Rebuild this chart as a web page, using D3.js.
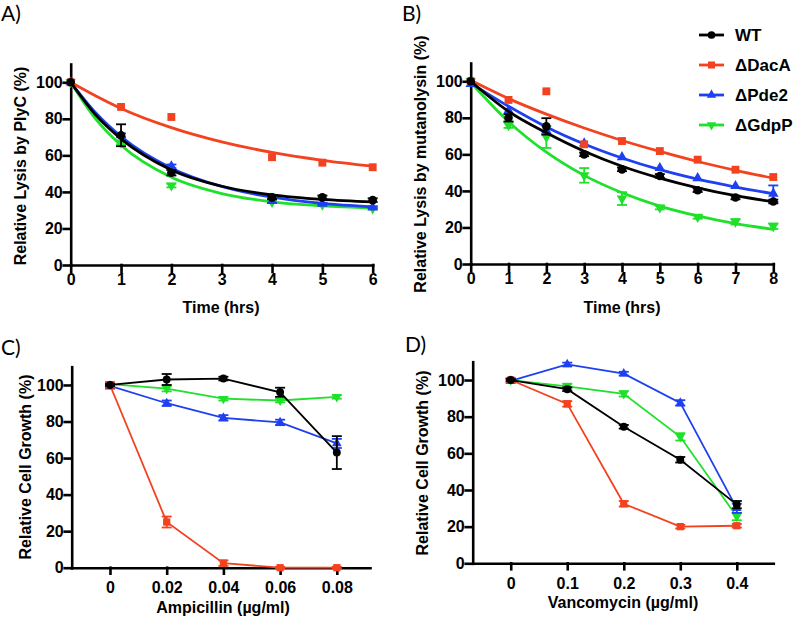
<!DOCTYPE html>
<html>
<head>
<meta charset="utf-8">
<script src="https://cdn.jsdelivr.net/npm/d3@7"></script>
<style>
  body { margin: 0; background: #fff; }
  svg { display: block; font-family: "Liberation Sans", Arial, sans-serif; }
  .tick text { font-weight: bold; font-size: 16px; fill: #000; }
  .title { font-weight: bold; font-size: 16px; }
  .panel { font-family: Lato, "Open Sans", sans-serif; font-size: 21px; }
</style>
</head>
<body>
<svg id="chart" width="800" height="620"></svg>
<script>
// ---- data ----
var seriesNames = ["WT", "\u0394DacA", "\u0394Pde2", "\u0394GdpP"];
var seriesColors = ["#000000", "#f3421f", "#1e40f0", "#1fe02a"];

// A) lysis by PlyC
var timeA = [0, 1, 2, 4, 5, 6];
var lysisA_WT   = [100, 71, 50.5, 37, 37, 35.5];
var lysisA_DacA = [100, 86.5, 81, 59, 56, 53.5];
var lysisA_Pde2 = [100, 71, 54, 35, 33.5, 31.5];
var lysisA_GdpP = [100, 67, 43.5, 34.5, 33, 31];
var errA_WT   = [0, 6, 1.5, 1, 1, 1];
var errA_DacA = [0, 0, 0, 0, 0, 0];
var errA_Pde2 = [0, 1, 1, 1, 0.5, 0.5];
var errA_GdpP = [0, 1, 1, 0.5, 0.5, 0.5];
// fitted decay curves
var fitTimeA = [0, 0.5, 1, 2, 3, 4, 5, 6];
var fitA_WT   = [100, 82, 69, 52, 43.1, 38.4, 35.9, 34.5];
var fitA_DacA = [100, 92.5, 85.7, 75.2, 67.4, 61.6, 57.3, 54.1];
var fitA_Pde2 = [100, 83.2, 70.3, 53, 43, 37.1, 33.7, 31.8];
var fitA_GdpP = [100, 79.8, 65.5, 48, 39.1, 34.6, 32.4, 31.2];

// B) lysis by mutanolysin
var timeB = [0, 1, 2, 3, 4, 5, 6, 7, 8];
var lysisB_WT   = [100, 80, 75.3, 60, 51.8, 48.2, 40.4, 36.4, 34.2];
var lysisB_DacA = [100, 89.8, 94.5, 65.5, 67.3, 61.8, 57.1, 51.6, 47.6];
var lysisB_Pde2 = [98.5, 84, 73, 66, 58.5, 52.5, 47, 42.7, 38.5];
var lysisB_GdpP = [100, 76, 69.5, 48.5, 35.8, 30.9, 25.8, 23.1, 20.7];
var errB_WT   = [0, 2, 4.5, 1, 1, 1, 1, 1, 1];
var errB_DacA = [0, 0, 0, 0, 0, 0, 0, 0, 0];
var errB_Pde2 = [0, 0, 0, 0, 0, 0, 0, 0, 4.5];
var errB_GdpP = [0, 1.5, 6, 4, 3.5, 1, 1, 1.5, 1.5];
var fitTimeB = [0, 1, 2, 3, 4, 5, 6, 7, 8];
var fitB_WT   = [100, 83.5, 71.8, 61.7, 53.5, 47, 41.7, 37.4, 34];
var fitB_DacA = [100.5, 90.5, 82, 74.4, 67.6, 61.6, 56.1, 51.3, 47];
var fitB_Pde2 = [99, 86.3, 75, 65.7, 58, 51.6, 46.4, 42.1, 38.5];
var fitB_GdpP = [99.5, 77.9, 61.2, 48.5, 39, 31.7, 26.3, 22.1, 19];

// C) ampicillin
var ampC = [0, 0.02, 0.04, 0.06, 0.08];
var growthC_WT   = [100, 103, 103.5, 96, 63];
var growthC_DacA = [100, 25, 2.5, 0, 0];
var growthC_Pde2 = [99.5, 90, 82, 79.5, 68];
var growthC_GdpP = [100.5, 98, 92.5, 91.5, 93.5];
var errC_WT   = [0.5, 3, 1, 2.5, 9];
var errC_DacA = [1.5, 3, 1.5, 0.5, 0.5];
var errC_Pde2 = [1.5, 1.5, 1.5, 1.5, 2.5];
var errC_GdpP = [1, 1.5, 1, 1, 1];

// D) vancomycin
var vanD = [0, 0.1, 0.2, 0.3, 0.4];
var growthD_WT   = [100, 95, 74.5, 56.5, 32];
var growthD_DacA = [100, 87, 32.5, 20, 20.5];
var growthD_Pde2 = [99.5, 108.5, 103.5, 87.5, 30];
var growthD_GdpP = [100, 96.5, 92.5, 69, 25.5];
var errD_WT   = [0.5, 1, 1, 1.5, 2];
var errD_DacA = [1, 1.5, 1.5, 1, 1];
var errD_Pde2 = [1, 1, 1, 1.5, 2.5];
var errD_GdpP = [1, 1.5, 1.5, 2, 2];

var yTicks = [0, 20, 40, 60, 80, 100];

var svg = d3.select("#chart");

// marker shapes: circle, square, up triangle, down triangle
function marker(sel, i, k) {
  k = k || 1;
  var types = [d3.symbolCircle, d3.symbolSquare, d3.symbolTriangle, d3.symbolTriangle];
  var sizes = [58, 62, 48, 48];
  sel.attr("d", d3.symbol().type(types[i]).size(sizes[i] * k))
     .attr("fill", seriesColors[i]);
}

function drawPanel(p) {
  var g = svg.append("g");

  var x = d3.scaleLinear().domain(p.xDomain).range(p.xRange);
  var y = d3.scaleLinear().domain([0, 110]).range(p.yRange);

  // axes
  g.append("g")
      .attr("transform", "translate(" + p.xRange[0] + ",0)")
      .call(d3.axisLeft(y).tickValues(yTicks).tickSize(7).tickSizeOuter(0).tickPadding(1));
  g.append("g")
      .attr("transform", "translate(0," + y(0) + ")")
      .call(d3.axisBottom(x).tickValues(p.xTicks).tickSize(p.xTickSize).tickSizeOuter(0)
            .tickPadding(p.xPad).tickFormat(p.xFormat));
  g.selectAll(".domain, .tick line").attr("stroke", "#000").attr("stroke-width", 2.6)
      .attr("stroke-linecap", "square");

  g.append("text").attr("class", "title")
      .attr("x", p.xTitleX).attr("y", p.xTitleY)
      .attr("text-anchor", "middle")
      .text(p.xTitle);
  g.append("text").attr("class", "title")
      .attr("transform", "translate(" + p.yTitleX + "," + p.yTitleY + ") rotate(-90)")
      .attr("text-anchor", "middle")
      .text(p.yTitle);

  g.append("text").attr("class", "panel")
      .attr("x", p.labelX).attr("y", p.labelY)
      .text(p.label);

  // draw green first so black ends up on top
  [3, 2, 1, 0].forEach(function(i) {
    var s = p.series[i];
    var pts = s.xs.map(function(v, k) { return { x: v, y: s.ys[k], e: s.errs[k] }; });

    if (s.fit) {
      var fitPts = s.fitX.map(function(v, k) { return [v, s.fit[k]]; });
      g.append("path")
        .datum(fitPts)
        .attr("fill", "none")
        .attr("stroke", seriesColors[i])
        .attr("stroke-width", 2.8)
        .attr("d", d3.line().x(function(d) { return x(d[0]); }).y(function(d) { return y(d[1]); })
             .curve(d3.curveMonotoneX));
    } else {
      g.append("path")
        .datum(pts)
        .attr("fill", "none")
        .attr("stroke", seriesColors[i])
        .attr("stroke-width", 1.8)
        .attr("d", d3.line().x(function(d) { return x(d.x); }).y(function(d) { return y(d.y); }));
    }

    // error bars
    var eb = g.selectAll(null).data(pts.filter(function(d) { return d.e > 0; })).enter().append("g")
        .attr("stroke", seriesColors[i]).attr("stroke-width", 1.8);
    eb.append("line")
        .attr("x1", function(d) { return x(d.x); }).attr("x2", function(d) { return x(d.x); })
        .attr("y1", function(d) { return y(d.y - d.e); }).attr("y2", function(d) { return y(d.y + d.e); });
    eb.append("line")
        .attr("x1", function(d) { return x(d.x) - 5; }).attr("x2", function(d) { return x(d.x) + 5; })
        .attr("y1", function(d) { return y(d.y + d.e); }).attr("y2", function(d) { return y(d.y + d.e); });
    eb.append("line")
        .attr("x1", function(d) { return x(d.x) - 5; }).attr("x2", function(d) { return x(d.x) + 5; })
        .attr("y1", function(d) { return y(d.y - d.e); }).attr("y2", function(d) { return y(d.y - d.e); });

    g.selectAll(null).data(pts).enter().append("path")
        .call(marker, i, p.markerScale)
        .attr("transform", function(d) {
          return "translate(" + x(d.x) + "," + y(d.y) + ")" + (i == 3 ? " rotate(180)" : "");
        });
  });
}

drawPanel({
  label: "A)", labelX: 1, labelY: 21, markerScale: 1,
  xDomain: [0, 6], xRange: [70.7, 372.7], yRange: [265, 64],
  xTicks: [0, 1, 2, 3, 4, 5, 6], xTickSize: 7, xPad: 2, xFormat: d3.format("d"),
  xTitle: "Time (hrs)", xTitleX: 221, xTitleY: 313,
  yTitle: "Relative Lysis by PlyC (%)", yTitleX: 26, yTitleY: 166,
  series: [
    { xs: timeA, ys: lysisA_WT, errs: errA_WT, fitX: fitTimeA, fit: fitA_WT },
    { xs: timeA, ys: lysisA_DacA, errs: errA_DacA, fitX: fitTimeA, fit: fitA_DacA },
    { xs: timeA, ys: lysisA_Pde2, errs: errA_Pde2, fitX: fitTimeA, fit: fitA_Pde2 },
    { xs: timeA, ys: lysisA_GdpP, errs: errA_GdpP, fitX: fitTimeA, fit: fitA_GdpP }
  ]
});

drawPanel({
  label: "B)", labelX: 402, labelY: 21, markerScale: 1,
  xDomain: [0, 8], xRange: [470.7, 773.3], yRange: [264, 63],
  xTicks: timeB, xTickSize: 7, xPad: 2, xFormat: d3.format("d"),
  xTitle: "Time (hrs)", xTitleX: 622, xTitleY: 313,
  yTitle: "Relative Lysis by mutanolysin (%)", yTitleX: 426, yTitleY: 164,
  series: [
    { xs: timeB, ys: lysisB_WT, errs: errB_WT, fitX: fitTimeB, fit: fitB_WT },
    { xs: timeB, ys: lysisB_DacA, errs: errB_DacA, fitX: fitTimeB, fit: fitB_DacA },
    { xs: timeB, ys: lysisB_Pde2, errs: errB_Pde2, fitX: fitTimeB, fit: fitB_Pde2 },
    { xs: timeB, ys: lysisB_GdpP, errs: errB_GdpP, fitX: fitTimeB, fit: fitB_GdpP }
  ]
});

drawPanel({
  label: "C)", labelX: 1, labelY: 355, markerScale: 0.85,
  xDomain: [-0.0135, 0.0917], xRange: [71.7, 370], yRange: [567.7, 366.7],
  xTicks: ampC, xTickSize: 6, xPad: 8,
  xFormat: function(d) { return d === 0 ? "0" : d3.format(".2f")(d); },
  xTitle: "Ampicillin (\u00b5g/ml)", xTitleX: 223, xTitleY: 613,
  yTitle: "Relative Cell Growth (%)", yTitleX: 31, yTitleY: 467,
  series: [
    { xs: ampC, ys: growthC_WT, errs: errC_WT },
    { xs: ampC, ys: growthC_DacA, errs: errC_DacA },
    { xs: ampC, ys: growthC_Pde2, errs: errC_Pde2 },
    { xs: ampC, ys: growthC_GdpP, errs: errC_GdpP }
  ]
});

drawPanel({
  label: "D)", labelX: 405, labelY: 352, markerScale: 0.85,
  xDomain: [-0.0673, 0.4646], xRange: [472.7, 773.3], yRange: [563.3, 361.7],
  xTicks: vanD, xTickSize: 6, xPad: 8,
  xFormat: function(d) { return d === 0 ? "0" : d3.format(".1f")(d); },
  xTitle: "Vancomycin (\u00b5g/ml)", xTitleX: 623, xTitleY: 608,
  yTitle: "Relative Cell Growth (%)", yTitleX: 428, yTitleY: 463,
  series: [
    { xs: vanD, ys: growthD_WT, errs: errD_WT },
    { xs: vanD, ys: growthD_DacA, errs: errD_DacA },
    { xs: vanD, ys: growthD_Pde2, errs: errD_Pde2 },
    { xs: vanD, ys: growthD_GdpP, errs: errD_GdpP }
  ]
});

// legend (top right, shared)
var legend = svg.append("g").selectAll("g")
    .data(seriesNames)
    .enter().append("g")
    .attr("transform", function(d, i) { return "translate(699," + (35 + i * 30) + ")"; });
legend.append("line")
    .attr("x1", 0).attr("x2", 25)
    .attr("stroke", function(d, i) { return seriesColors[i]; })
    .attr("stroke-width", 2.8);
legend.append("path")
    .each(function(d, i) { d3.select(this).call(marker, i, 0.8); })
    .attr("transform", function(d, i) { return "translate(12.5,0)" + (i == 3 ? " rotate(180)" : ""); });
legend.append("text")
    .attr("x", 36).attr("dy", "0.35em")
    .style("font-weight", "bold").style("font-size", "17px")
    .text(function(d) { return d; });
</script>
</body>
</html>
